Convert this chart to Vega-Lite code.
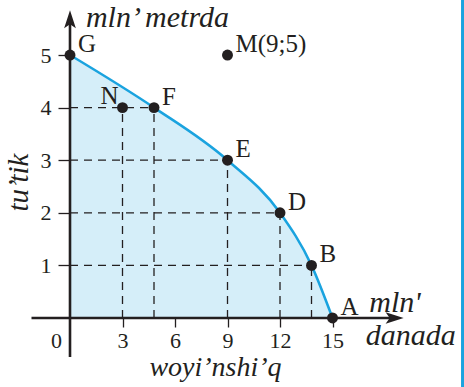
{
  "$schema": "https://vega.github.io/schema/vega-lite/v6.json",
  "width": 464,
  "height": 387,
  "padding": 0,
  "autosize": "none",
  "background": "white",
  "config": {"view": {"stroke": null}, "font": "Liberation Serif, Times New Roman, serif"},
  "datasets": {
    "curve": [
      {"x": 0, "y": 5}, {"x": 4.8, "y": 4}, {"x": 9, "y": 3},
      {"x": 12, "y": 2}, {"x": 13.8, "y": 1}, {"x": 15, "y": 0}
    ],
    "points": [
      {"x": 0, "y": 5, "label": "G", "side": "r"},
      {"x": 3, "y": 4, "label": "N", "side": "l"},
      {"x": 4.8, "y": 4, "label": "F", "side": "r"},
      {"x": 9, "y": 3, "label": "E", "side": "r"},
      {"x": 12, "y": 2, "label": "D", "side": "r"},
      {"x": 13.8, "y": 1, "label": "B", "side": "r"},
      {"x": 15, "y": 0, "label": "A", "side": "r"},
      {"x": 9, "y": 5, "label": "M(9;5)", "side": "r"}
    ],
    "dashes": [
      {"x": 0, "y": 4, "x2": 4.8, "y2": 4},
      {"x": 0, "y": 3, "x2": 9, "y2": 3},
      {"x": 0, "y": 2, "x2": 12, "y2": 2},
      {"x": 0, "y": 1, "x2": 13.8, "y2": 1},
      {"x": 3, "y": 0, "x2": 3, "y2": 4},
      {"x": 4.8, "y": 0, "x2": 4.8, "y2": 4},
      {"x": 9, "y": 0, "x2": 9, "y2": 3},
      {"x": 12, "y": 0, "x2": 12, "y2": 2},
      {"x": 13.8, "y": 0, "x2": 13.8, "y2": 1}
    ],
    "axislines": [
      {"x": -2.2, "y": 0, "x2": 18.6, "y2": 0},
      {"x": 0, "y": -0.74, "x2": 0, "y2": 5.66}
    ],
    "arrows": [
      {"x": 18.55, "y": 0, "dir": "right"},
      {"x": 0, "y": 5.68, "dir": "up"}
    ],
    "texts": [
      {"x": 0.91, "y": 5.53, "text": "mln’ metrda"},
      {"x": 17.1, "y": 0.11, "text": "mln'"},
      {"x": 16.9, "y": -0.51, "text": "danada"}
    ],
    "zero": [{"x": 0, "y": 0, "text": "0"}],
    "border": [{"x": 22.43}]
  },
  "layer": [
    {
      "data": {"name": "curve"},
      "mark": {"type": "area", "interpolate": "monotone", "color": "#d5eef9"},
      "encoding": {
        "x": {"field": "x", "type": "quantitative", "scale": {"domain": [-4, 22.514], "nice": false, "zero": false},
          "axis": {"orient": "bottom", "offset": -69, "values": [3, 6, 9, 12, 15], "domain": false, "grid": false,
            "tickSize": 9, "tickColor": "#231f20", "tickWidth": 1.3,
            "labelFont": "Liberation Serif, Times New Roman, serif", "labelFontSize": 22, "labelColor": "#231f20", "labelPadding": 3,
            "title": "woyi’nshi’q", "titleFont": "Liberation Serif, Times New Roman, serif", "titleFontStyle": "italic", "titleFontWeight": "normal",
            "titleFontSize": 28, "titleColor": "#231f20", "titleX": 215, "titleY": 57, "titleBaseline": "alphabetic"}},
        "y": {"field": "y", "type": "quantitative", "scale": {"domain": [-1.312, 6.046], "nice": false, "zero": false},
          "axis": {"orient": "left", "offset": -70, "values": [1, 2, 3, 4, 5], "domain": false, "grid": false,
            "tickSize": 12, "tickColor": "#231f20", "tickWidth": 1.3,
            "labelFont": "Liberation Serif, Times New Roman, serif", "labelFontSize": 22, "labelColor": "#231f20", "labelPadding": 7,
            "title": "tu’tik", "titleFont": "Liberation Serif, Times New Roman, serif", "titleFontStyle": "italic", "titleFontWeight": "normal",
            "titleFontSize": 29, "titleColor": "#231f20", "titleX": -52, "titleY": 182, "titleBaseline": "middle"}}
      }
    },
    {
      "data": {"name": "dashes"},
      "mark": {"type": "rule", "color": "#231f20", "strokeWidth": 1.3, "strokeDash": [8, 6]},
      "encoding": {
        "x": {"field": "x", "type": "quantitative"},
        "y": {"field": "y", "type": "quantitative"},
        "x2": {"field": "x2"},
        "y2": {"field": "y2"}
      }
    },
    {
      "data": {"name": "curve"},
      "mark": {"type": "line", "interpolate": "monotone", "color": "#1aa3df", "strokeWidth": 2.5},
      "encoding": {
        "x": {"field": "x", "type": "quantitative"},
        "y": {"field": "y", "type": "quantitative"}
      }
    },
    {
      "data": {"name": "axislines"},
      "mark": {"type": "rule", "color": "#231f20", "strokeWidth": 2.6},
      "encoding": {
        "x": {"field": "x", "type": "quantitative"},
        "y": {"field": "y", "type": "quantitative"},
        "x2": {"field": "x2"},
        "y2": {"field": "y2"}
      }
    },
    {
      "data": {"name": "arrows"},
      "mark": {"type": "point", "filled": true, "color": "#231f20", "opacity": 1, "size": 324},
      "encoding": {
        "x": {"field": "x", "type": "quantitative"},
        "y": {"field": "y", "type": "quantitative"},
        "shape": {"field": "dir", "type": "nominal", "legend": null,
          "scale": {"domain": ["right", "up"], "range": ["M1,0L-1,-0.65L-0.55,0L-1,0.65Z", "M0,-1L0.65,1L0,0.55L-0.65,1Z"]}}
      }
    },
    {
      "data": {"name": "border"},
      "mark": {"type": "rule", "color": "#1aa3df", "strokeWidth": 3},
      "encoding": {"x": {"field": "x", "type": "quantitative"}}
    },
    {
      "data": {"name": "points"},
      "mark": {"type": "circle", "color": "#231f20", "opacity": 1, "size": 120},
      "encoding": {
        "x": {"field": "x", "type": "quantitative"},
        "y": {"field": "y", "type": "quantitative"}
      }
    },
    {
      "data": {"name": "points"},
      "transform": [{"filter": "datum.side == 'r'"}],
      "mark": {"type": "text", "align": "left", "baseline": "middle", "dx": 8, "dy": -11, "font": "Liberation Serif, Times New Roman, serif", "fontSize": 25, "color": "#231f20"},
      "encoding": {
        "x": {"field": "x", "type": "quantitative"},
        "y": {"field": "y", "type": "quantitative"},
        "text": {"field": "label"}
      }
    },
    {
      "data": {"name": "points"},
      "transform": [{"filter": "datum.side == 'l'"}],
      "mark": {"type": "text", "align": "right", "baseline": "middle", "dx": -4, "dy": -12, "font": "Liberation Serif, Times New Roman, serif", "fontSize": 25, "color": "#231f20"},
      "encoding": {
        "x": {"field": "x", "type": "quantitative"},
        "y": {"field": "y", "type": "quantitative"},
        "text": {"field": "label"}
      }
    },
    {
      "data": {"name": "zero"},
      "mark": {"type": "text", "align": "right", "baseline": "middle", "dx": -8, "dy": 23, "font": "Liberation Serif, Times New Roman, serif", "fontSize": 22, "color": "#231f20"},
      "encoding": {
        "x": {"field": "x", "type": "quantitative"},
        "y": {"field": "y", "type": "quantitative"},
        "text": {"field": "text"}
      }
    },
    {
      "data": {"name": "texts"},
      "mark": {"type": "text", "align": "left", "baseline": "alphabetic", "font": "Liberation Serif, Times New Roman, serif", "fontStyle": "italic", "fontSize": 30, "color": "#231f20"},
      "encoding": {
        "x": {"field": "x", "type": "quantitative"},
        "y": {"field": "y", "type": "quantitative"},
        "text": {"field": "text"}
      }
    }
  ]
}
